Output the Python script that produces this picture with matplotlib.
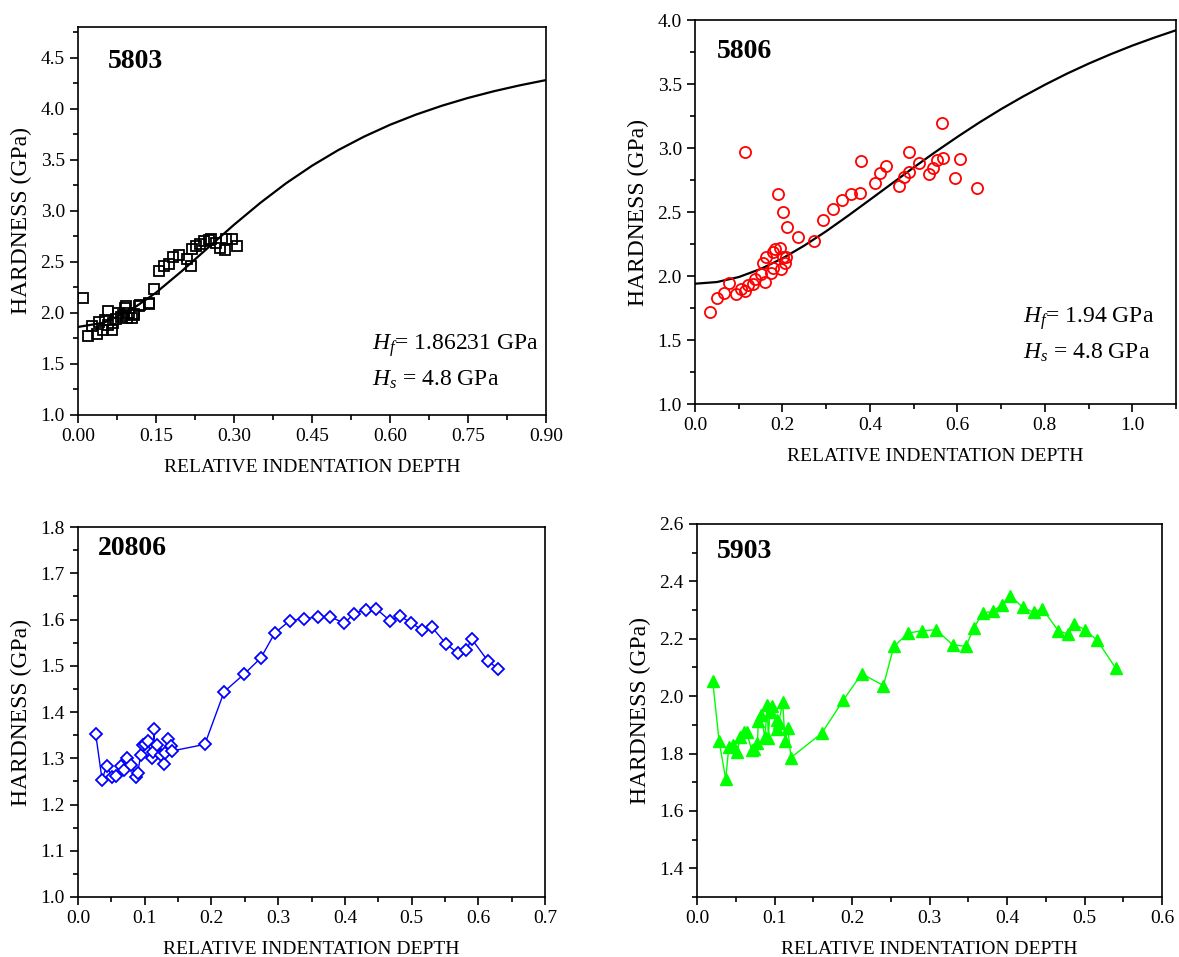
import matplotlib.pyplot as plt
import numpy as np
from matplotlib.ticker import MultipleLocator

plt.rcParams['font.family'] = ['Liberation Serif', 'DejaVu Serif']
plt.rcParams['mathtext.fontset'] = 'custom'
plt.rcParams['mathtext.rm'] = 'Liberation Serif'
plt.rcParams['mathtext.it'] = 'Liberation Serif:italic'

# ---- sample 5803 ----
x5803 = [0.0103, 0.0199, 0.026, 0.036, 0.040, 0.0487, 0.052, 0.057, 0.058, 0.065,
         0.068, 0.073, 0.0776, 0.0827, 0.087, 0.090, 0.093, 0.0936, 0.0987, 0.1045,
         0.1076, 0.108, 0.118, 0.1187, 0.1365, 0.137, 0.147, 0.1555, 0.165, 0.1755,
         0.183, 0.1946, 0.2086, 0.218, 0.2196, 0.227, 0.2344, 0.2418, 0.2513, 0.2565,
         0.2646, 0.2735, 0.283, 0.2845, 0.2963, 0.3066]
h5803 = [2.141, 1.772, 1.87, 1.789, 1.906, 1.831, 1.929, 1.88, 2.02, 1.831,
         1.896, 1.935, 1.994, 1.961, 1.978, 2.049, 2.07, 1.945, 1.994, 1.945,
         1.99, 1.978, 2.068, 2.078, 2.085, 2.097, 2.234, 2.412, 2.461, 2.477,
         2.552, 2.565, 2.526, 2.461, 2.63, 2.656, 2.672, 2.705, 2.714, 2.72,
         2.682, 2.64, 2.617, 2.72, 2.727, 2.656]
fit_x5803 = [0.0, 0.05, 0.1, 0.15, 0.2, 0.25, 0.3, 0.35, 0.4, 0.45, 0.5,
             0.55, 0.6, 0.65, 0.7, 0.75, 0.8, 0.85, 0.9]
fit_h5803 = [1.862, 1.904, 2.022, 2.198, 2.411, 2.638, 2.863, 3.075, 3.269, 3.441, 3.593,
             3.726, 3.842, 3.942, 4.029, 4.105, 4.171, 4.229, 4.280]

# ---- sample 5806 ----
x5806 = [0.034, 0.051, 0.066, 0.078, 0.094, 0.105, 0.115, 0.115, 0.122, 0.132,
         0.138, 0.152, 0.156, 0.160, 0.162, 0.174, 0.178, 0.179, 0.183, 0.190,
         0.194, 0.197, 0.202, 0.202, 0.206, 0.209, 0.211, 0.235, 0.273, 0.293,
         0.315, 0.336, 0.356, 0.378, 0.379, 0.412, 0.423, 0.436, 0.467, 0.477,
         0.490, 0.490, 0.513, 0.536, 0.545, 0.553, 0.565, 0.566, 0.595, 0.605, 0.644]
h5806 = [1.716, 1.826, 1.865, 1.943, 1.857, 1.898, 1.885, 2.966, 1.93, 1.935,
         1.977, 2.016, 2.104, 1.953, 2.146, 2.021, 2.06, 2.19, 2.208, 2.638,
         2.221, 2.052, 2.151, 2.498, 2.104, 2.151, 2.38, 2.307, 2.273, 2.438,
         2.521, 2.594, 2.638, 2.646, 2.898, 2.724, 2.807, 2.862, 2.703, 2.776,
         2.815, 2.966, 2.885, 2.797, 2.841, 2.906, 3.198, 2.924, 2.768, 2.914, 2.69]
fit_x5806 = [0.0, 0.05, 0.1, 0.15, 0.2, 0.25, 0.3, 0.35, 0.4, 0.45, 0.5, 0.55,
             0.6, 0.65, 0.7, 0.75, 0.8, 0.85, 0.9, 0.95, 1.0, 1.05, 1.1]
fit_h5806 = [1.94, 1.953, 1.992, 2.055, 2.138, 2.238, 2.350, 2.471, 2.596, 2.722, 2.848, 2.970,
             3.087, 3.199, 3.304, 3.402, 3.494, 3.580, 3.659, 3.732, 3.800, 3.862, 3.920]

# ---- sample 20806 ----
x20806 = [0.0265, 0.036, 0.043, 0.0505, 0.057, 0.064, 0.0695, 0.074, 0.0795, 0.087,
          0.0895, 0.094, 0.097, 0.1005, 0.1045, 0.1105, 0.1145, 0.113, 0.119, 0.124,
          0.1295, 0.1305, 0.1355, 0.139, 0.1415, 0.190, 0.219, 0.249, 0.274, 0.295,
          0.317, 0.338, 0.359, 0.378, 0.399, 0.414, 0.431, 0.447, 0.468, 0.482,
          0.499, 0.516, 0.530, 0.552, 0.569, 0.582, 0.590, 0.614, 0.630]
h20806 = [1.352, 1.254, 1.284, 1.26, 1.262, 1.284, 1.275, 1.301, 1.285, 1.26,
          1.269, 1.308, 1.329, 1.331, 1.337, 1.30, 1.363, 1.314, 1.329, 1.307,
          1.288, 1.312, 1.341, 1.327, 1.316, 1.33, 1.444, 1.482, 1.517, 1.571,
          1.597, 1.602, 1.605, 1.606, 1.592, 1.613, 1.621, 1.623, 1.597, 1.608,
          1.593, 1.577, 1.584, 1.547, 1.527, 1.534, 1.558, 1.511, 1.493]

# ---- sample 5903 ----
x5903 = [0.0203, 0.0284, 0.037, 0.041, 0.046, 0.052, 0.0555, 0.06, 0.064, 0.0705,
         0.074, 0.078, 0.079, 0.082, 0.0877, 0.0907, 0.092, 0.094, 0.097, 0.1036,
         0.106, 0.1036, 0.1106, 0.1135, 0.117, 0.1213, 0.161, 0.189, 0.2125, 0.2405,
         0.254, 0.2727, 0.2908, 0.3084, 0.33, 0.347, 0.357, 0.3686, 0.3815, 0.393,
         0.404, 0.420, 0.4345, 0.4456, 0.466, 0.479, 0.487, 0.5006, 0.5165, 0.540]
h5903 = [2.051, 1.845, 1.711, 1.822, 1.828, 1.805, 1.859, 1.874, 1.874, 1.813,
         1.815, 1.836, 1.915, 1.935, 1.856, 1.97, 1.853, 1.946, 1.964, 1.917,
         1.906, 1.885, 1.978, 1.842, 1.888, 1.786, 1.871, 1.987, 2.078, 2.037,
         2.173, 2.22, 2.228, 2.231, 2.179, 2.173, 2.237, 2.29, 2.295, 2.318,
         2.35, 2.31, 2.292, 2.305, 2.228, 2.216, 2.251, 2.231, 2.194, 2.098]

fig = plt.figure(figsize=(11.79, 9.57), dpi=100)

ax1 = fig.add_axes([0.0662, 0.5664, 0.3969, 0.4054])
ax2 = fig.add_axes([0.5895, 0.5778, 0.4080, 0.4013])
ax3 = fig.add_axes([0.0662, 0.0627, 0.3961, 0.3866])
ax4 = fig.add_axes([0.5912, 0.0627, 0.3944, 0.3898])

# panel 1
ax1.plot(fit_x5803, fit_h5803, color='black', lw=1.6)
ax1.plot(x5803, h5803, ls='none', marker='s', ms=7.5, mfc='none', mec='black', mew=1.3)
ax1.set_xlim(0, 0.9)
ax1.set_ylim(1.0, 4.8)
ax1.xaxis.set_major_locator(MultipleLocator(0.15))
ax1.xaxis.set_minor_locator(MultipleLocator(0.075))
ax1.yaxis.set_major_locator(MultipleLocator(0.5))
ax1.yaxis.set_minor_locator(MultipleLocator(0.25))
ax1.xaxis.set_major_formatter(plt.FormatStrFormatter('%.2f'))
ax1.yaxis.set_major_formatter(plt.FormatStrFormatter('%.1f'))
ax1.text(0.064, 0.91, '5803', transform=ax1.transAxes, fontsize=20, fontweight='bold', va='center')
ax1.text(0.565, 1.68, '$H_f$= 1.86231 GPa', fontsize=17, va='center')
ax1.text(0.565, 1.34, '$H_s$ = 4.8 GPa', fontsize=17, va='center')

# panel 2
ax2.plot(fit_x5806, fit_h5806, color='black', lw=1.6)
ax2.plot(x5806, h5806, ls='none', marker='o', ms=8, mfc='none', mec='red', mew=1.3)
ax2.set_xlim(0, 1.1)
ax2.set_ylim(1.0, 4.0)
ax2.xaxis.set_major_locator(MultipleLocator(0.2))
ax2.xaxis.set_minor_locator(MultipleLocator(0.1))
ax2.yaxis.set_major_locator(MultipleLocator(0.5))
ax2.yaxis.set_minor_locator(MultipleLocator(0.25))
ax2.xaxis.set_major_formatter(plt.FormatStrFormatter('%.1f'))
ax2.yaxis.set_major_formatter(plt.FormatStrFormatter('%.1f'))
ax2.text(0.046, 0.917, '5806', transform=ax2.transAxes, fontsize=20, fontweight='bold', va='center')
ax2.text(0.75, 1.67, '$H_f$= 1.94 GPa', fontsize=17, va='center')
ax2.text(0.75, 1.40, '$H_s$ = 4.8 GPa', fontsize=17, va='center')

# panel 3
ax3.plot(x20806, h20806, color='blue', lw=1, marker='D', ms=6, mfc='white', mec='blue', mew=1.3)
ax3.set_xlim(0, 0.7)
ax3.set_ylim(1.0, 1.8)
ax3.xaxis.set_major_locator(MultipleLocator(0.1))
ax3.xaxis.set_minor_locator(MultipleLocator(0.05))
ax3.yaxis.set_major_locator(MultipleLocator(0.1))
ax3.yaxis.set_minor_locator(MultipleLocator(0.05))
ax3.xaxis.set_major_formatter(plt.FormatStrFormatter('%.1f'))
ax3.yaxis.set_major_formatter(plt.FormatStrFormatter('%.1f'))
ax3.text(0.043, 0.943, '20806', transform=ax3.transAxes, fontsize=20, fontweight='bold', va='center')

# panel 4
ax4.plot(x5903, h5903, color='#00ff00', lw=1, marker='^', ms=9, mfc='#00ff00', mec='#00ff00')
ax4.set_xlim(0, 0.6)
ax4.set_ylim(1.3, 2.6)
ax4.xaxis.set_major_locator(MultipleLocator(0.1))
ax4.xaxis.set_minor_locator(MultipleLocator(0.05))
ax4.yaxis.set_major_locator(MultipleLocator(0.2))
ax4.yaxis.set_minor_locator(MultipleLocator(0.1))
ax4.xaxis.set_major_formatter(plt.FormatStrFormatter('%.1f'))
ax4.yaxis.set_major_formatter(plt.FormatStrFormatter('%.1f'))
ax4.text(0.043, 0.925, '5903', transform=ax4.transAxes, fontsize=20, fontweight='bold', va='center')

for ax in [ax1, ax2, ax3, ax4]:
    ax.set_xlabel('RELATIVE INDENTATION DEPTH', fontsize=14, labelpad=10)
    ax.set_ylabel('HARDNESS (GPa)', fontsize=17, labelpad=6)
    ax.tick_params(which='both', direction='out', top=False, right=False, labelsize=14, width=1.2)
    ax.tick_params(which='major', length=6)
    ax.tick_params(which='minor', length=3.5)
    for s in ax.spines.values():
        s.set_linewidth(1.2)

fig.savefig('out.png', dpi=100)
